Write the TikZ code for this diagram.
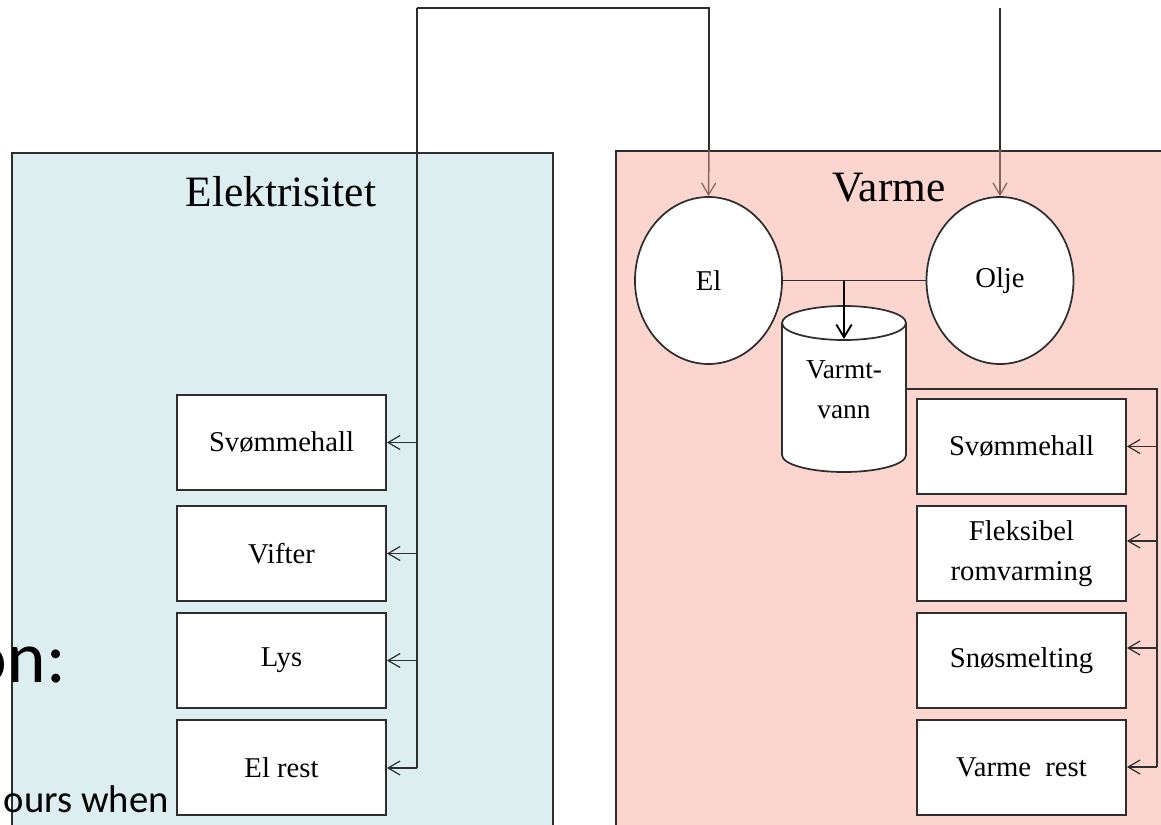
\documentclass[tikz,border=0pt]{standalone}
\usepackage{fontspec}
\setmainfont{Liberation Serif}
\newfontfamily\calib{Carlito}
\usetikzlibrary{arrows.meta,shapes.geometric}
\definecolor{elfill}{HTML}{DDEEF1}
\definecolor{vafill}{HTML}{FCD5CF}
\definecolor{ln}{HTML}{2E2E2E}
\definecolor{lnred}{HTML}{85615E}
\begin{document}
\begin{tikzpicture}[x=0.75pt,y=-0.75pt,
  panel/.style={draw=ln,line width=1.2pt,anchor=north west,inner sep=0pt},
  box/.style={draw=ln,line width=1.4pt,fill=white,minimum width=156.75pt,minimum height=71.25pt,inner sep=0pt,align=center,font=\fontsize{21.5}{30}\selectfont},
  src/.style={ellipse,draw=ln,line width=1.3pt,fill=white,minimum width=110.25pt,minimum height=125.25pt,inner sep=0pt,font=\fontsize{21.5}{30}\selectfont},
  title/.style={anchor=base,font=\fontsize{32.5}{36}\selectfont},
  conn/.style={draw=ln,line width=1.1pt},
  tip/.style={-{Straight Barb[length=9pt,width=10.5pt,line width=0.9pt]}}]
\useasboundingbox (0,0) rectangle (1161,825);
\clip (0,0) rectangle (1161,825);
% panels
\node[panel,fill=elfill,minimum width=405.75pt,minimum height=525pt] (elpanel) at (11,152) {};
\node[panel,fill=vafill,minimum width=450pt,minimum height=525pt] (vapanel) at (615,150) {};
\node[title] (eltitle) at (281,206) {Elektrisitet};
\node[title] (vatitle) at (889,201) {Varme};
% slide text behind
\node[anchor=base east,inner sep=0pt,font=\calib\fontsize{55}{60}\selectfont] (on) at (66,682) {on:};
\node[anchor=base east,inner sep=0pt,font=\calib\fontsize{29}{32}\selectfont] (ours) at (169,812) {ours when};
% left boxes
\node[box] (lb1) at (281.5,442.5) {Svømmehall};
\node[box] (lb2) at (281.5,553.5) {Vifter};
\node[box] (lb3) at (281.5,660.5) {Lys};
\node[box] (lb4) at (281.5,767.5) {El rest};
% right boxes
\node[box] (rb1) at (1021.5,446.5) {Svømmehall};
\node[box] (rb2) at (1021.5,553.5) {Fleksibel\\romvarming};
\node[box] (rb3) at (1021.5,660.5) {Snøsmelting};
\node[box] (rb4) at (1021.5,767.5) {Varme~ rest};
% sources
\node[src] (el) at (708.5,280.5) {El};
\node[src] (olje) at (1000,280.5) {Olje};
% cylinder
\draw[draw=ln,line width=1.3pt,fill=white] (782,323) -- (782,455)
  arc[start angle=180,end angle=360,x radius=46.5pt,y radius=12.75pt] -- (906,323)
  arc[start angle=0,end angle=180,x radius=46.5pt,y radius=12.75pt] -- cycle;
\draw[draw=ln,line width=1.3pt] (782,323) arc[start angle=180,end angle=360,x radius=46.5pt,y radius=12.75pt];
\node[inner sep=0pt,align=center,font=\fontsize{20.5}{30}\selectfont] (vv) at (844,390) {Varmt-\\vann};
\coordinate (cyltop) at (844,339);
\coordinate (cylright) at (906,389);
% top feeds
\coordinate (tl) at (417,8);
\coordinate (tr) at (709,8);
\coordinate (to) at (1000,8);
\coordinate (lbot) at (417,768);
\draw[conn] (tl) -- (tr) -- (tr |- vapanel.north);
\draw[conn,draw=lnred,tip] (tr |- vapanel.north) -- (el.north);
\draw[conn] (to) -- (to |- vapanel.north);
\draw[conn,draw=lnred,tip] (to |- vapanel.north) -- (olje.north);
% left distribution
\draw[conn] (tl) -- (lbot);
\draw[conn,tip] (lbot) -- (lb4.east |- lbot);
\draw[conn,tip] (tl |- lb1.east) -- (lb1.east);
\draw[conn,tip] (tl |- lb2.east) -- (lb2.east);
\draw[conn,tip] (tl |- lb3.east) -- (lb3.east);
% heat sources to tank
\draw[conn] (el.east) -- (olje.west);
\coordinate (jn) at (844,280.5);
\draw[draw=black,line width=1.6pt,-{Straight Barb[length=9.5pt,width=11.5pt,line width=1.4pt]}] (jn) -- (cyltop);
% right distribution
\coordinate (rc) at (1157,389);
\coordinate (rbot) at (1157,767);
\draw[conn] (cylright) -- (rc) -- (rbot);
\draw[conn,tip] (rc |- rb1.east) -- (rb1.east);
\draw[conn,tip] (1157,541) -- (rb2.east |- 0,541);
\draw[conn,tip] (1157,648) -- (rb3.east |- 0,648);
\draw[conn,tip] (rbot) -- (rb4.east |- rbot);
\end{tikzpicture}
\end{document}
